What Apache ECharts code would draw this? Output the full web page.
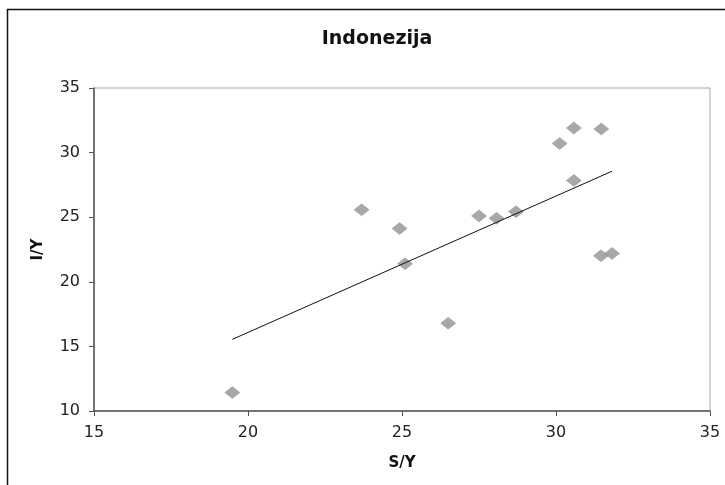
<!DOCTYPE html>
<html>
<head>
<meta charset="utf-8">
<script src="https://cdn.jsdelivr.net/npm/echarts@6/dist/echarts.min.js"></script>
<style>
  html, body { margin: 0; padding: 0; background: #fff; }
  #chart { width: 725px; height: 485px; }
</style>
</head>
<body>
<div id="chart"></div>
<script>
// S/Y values (x) and I/Y values (y)
const sY = [19.49, 23.69, 24.92, 25.10, 26.50, 27.50, 28.07, 28.70, 30.12, 30.58, 31.47, 30.58, 31.46, 31.82];
const iY = [11.43, 25.57, 24.12, 21.40, 16.80, 25.10, 24.92, 25.43, 30.71, 31.90, 31.82, 27.84, 22.02, 22.20];
const titleText = 'Indonezija';
const xName = 'S/Y';
const yName = 'I/Y';

const points = sY.map((x, i) => [x, iY[i]]);

// least-squares linear trendline over the data range
const n = sY.length;
const mx = sY.reduce((a, b) => a + b, 0) / n;
const my = iY.reduce((a, b) => a + b, 0) / n;
let sxy = 0, sxx = 0;
for (let i = 0; i < n; i++) { sxy += (sY[i] - mx) * (iY[i] - my); sxx += (sY[i] - mx) ** 2; }
const slope = sxy / sxx;
const intercept = my - slope * mx;
const xMin = Math.min(...sY), xMax = Math.max(...sY);
const trend = [[xMin, intercept + slope * xMin], [xMax, intercept + slope * xMax]];

const chart = echarts.init(document.getElementById('chart'), null, { renderer: 'canvas' });
const font = 'DejaVu Sans';
chart.setOption({
  animation: false,
  backgroundColor: '#fff',
  title: {
    text: titleText,
    left: 372, top: 25, textAlign: 'center',
    textStyle: { fontFamily: font, fontWeight: 'bold', fontSize: 19, color: '#111' }
  },
  graphic: [{
    type: 'rect', silent: true,
    shape: { x: 7.5, y: 9.5, width: 740, height: 500 },
    style: { fill: 'none', stroke: '#111', lineWidth: 1.5 }
  }],
  grid: {
    left: 94, right: 15, top: 88, bottom: 74,
    show: true, borderColor: '#a8a8a8', borderWidth: 1, backgroundColor: '#fff'
  },
  xAxis: {
    type: 'value', min: 15, max: 35, interval: 5,
    name: xName, nameLocation: 'middle', nameGap: 45,
    nameTextStyle: { fontFamily: font, fontWeight: 'bold', fontSize: 15, color: '#111' },
    axisLine: { show: true, onZero: false, lineStyle: { color: '#555', width: 1.5 } },
    axisTick: { show: true, inside: false, length: 5, lineStyle: { color: '#555' } },
    axisLabel: { margin: 14, fontFamily: font, fontSize: 16, color: '#222' },
    splitLine: { show: false }
  },
  yAxis: {
    type: 'value', min: 10, max: 35, interval: 5,
    name: yName, nameLocation: 'middle', nameGap: 48,
    nameTextStyle: { fontFamily: font, fontWeight: 'bold', fontSize: 15, color: '#111' },
    axisLine: { show: true, onZero: false, lineStyle: { color: '#555', width: 1.5 } },
    axisTick: { show: true, inside: false, length: 5, lineStyle: { color: '#555' } },
    axisLabel: { margin: 14, fontFamily: font, fontSize: 16, color: '#222' },
    splitLine: { show: false }
  },
  series: [
    {
      type: 'line', data: trend, symbol: 'none', silent: true,
      lineStyle: { color: '#111', width: 1 }, z: 3
    },
    {
      type: 'scatter', data: points, symbol: 'diamond', symbolSize: [15, 12],
      itemStyle: { color: '#929292', borderColor: '#858585', borderWidth: 0.5 }, z: 2
    }
  ]
});
</script>
</body>
</html>
